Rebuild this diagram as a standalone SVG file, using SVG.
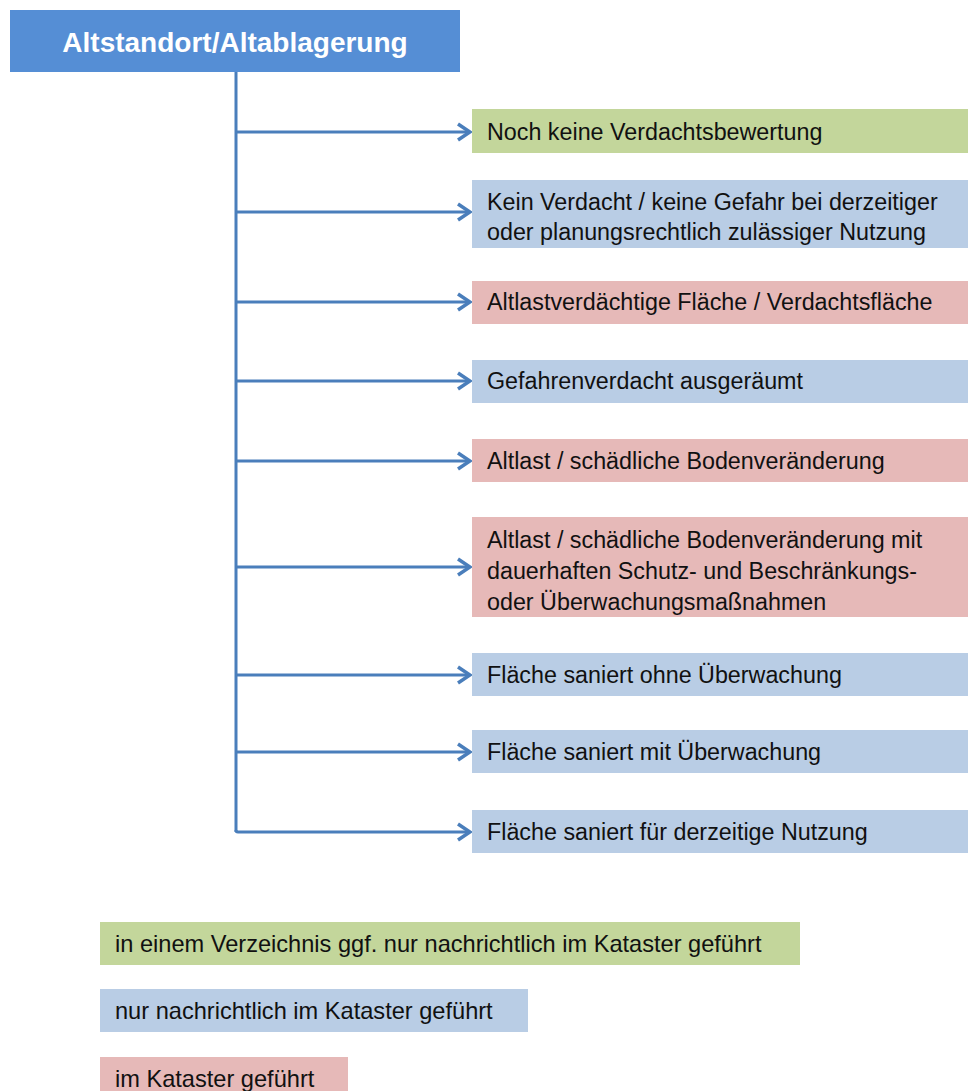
<svg xmlns="http://www.w3.org/2000/svg" width="968" height="1091" viewBox="0 0 968 1091">
<style>
.t{font-family:"Liberation Sans",Arial,sans-serif;font-size:23.3px;fill:#111}
.lg{font-family:"Liberation Sans",Arial,sans-serif;font-size:23.6px;fill:#111}
.g{fill:#C3D69B}.b{fill:#B9CDE5}.r{fill:#E6B9B8}
.c{stroke:#4A7EBB;stroke-width:3;fill:none}
</style>
<defs>
<marker id="ah" markerWidth="18" markerHeight="20" refX="15" refY="10" orient="auto" markerUnits="userSpaceOnUse">
<polyline points="3,2 15,10 3,18" fill="none" stroke="#4A7EBB" stroke-width="3.5"/>
</marker>
</defs>
<rect width="968" height="1091" fill="#fff"/>
<g id="root">
<rect x="10" y="10" width="450" height="62" fill="#558ED5"/>
<text x="235" y="52" text-anchor="middle" font-family="Liberation Sans,Arial,sans-serif" font-size="28" font-weight="bold" fill="#fff">Altstandort/Altablagerung</text>
</g>
<g id="connectors">
<polyline class="c" points="236,72 236,832"/>
<line class="c" x1="236" y1="132" x2="470" y2="132" marker-end="url(#ah)"/>
<line class="c" x1="236" y1="212" x2="470" y2="212" marker-end="url(#ah)"/>
<line class="c" x1="236" y1="302" x2="470" y2="302" marker-end="url(#ah)"/>
<line class="c" x1="236" y1="381" x2="470" y2="381" marker-end="url(#ah)"/>
<line class="c" x1="236" y1="461" x2="470" y2="461" marker-end="url(#ah)"/>
<line class="c" x1="236" y1="567" x2="470" y2="567" marker-end="url(#ah)"/>
<line class="c" x1="236" y1="675" x2="470" y2="675" marker-end="url(#ah)"/>
<line class="c" x1="236" y1="752" x2="470" y2="752" marker-end="url(#ah)"/>
<path class="c" d="M236,830 Q236,832 238,832 L470,832" marker-end="url(#ah)"/>
</g>
<g id="n1"><rect class="g" x="472" y="109" width="496" height="44"/><text class="t" x="487" y="140">Noch keine Verdachtsbewertung</text></g>
<g id="n2"><rect class="b" x="472" y="180" width="496" height="68"/><text class="t" x="487" y="210">Kein Verdacht / keine Gefahr bei derzeitiger</text><text class="t" x="487" y="240">oder planungsrechtlich zulässiger Nutzung</text></g>
<g id="n3"><rect class="r" x="472" y="281" width="496" height="43"/><text class="t" x="487" y="310">Altlastverdächtige Fläche / Verdachtsfläche</text></g>
<g id="n4"><rect class="b" x="472" y="360" width="496" height="43"/><text class="t" x="487" y="389">Gefahrenverdacht ausgeräumt</text></g>
<g id="n5"><rect class="r" x="472" y="439" width="496" height="43"/><text class="t" x="487" y="469">Altlast / schädliche Bodenveränderung</text></g>
<g id="n6"><rect class="r" x="472" y="517" width="496" height="100"/><text class="t" x="487" y="548">Altlast / schädliche Bodenveränderung mit</text><text class="t" x="487" y="579">dauerhaften Schutz- und Beschränkungs-</text><text class="t" x="487" y="610">oder Überwachungsmaßnahmen</text></g>
<g id="n7"><rect class="b" x="472" y="653" width="496" height="43"/><text class="t" x="487" y="683">Fläche saniert ohne Überwachung</text></g>
<g id="n8"><rect class="b" x="472" y="730" width="496" height="43"/><text class="t" x="487" y="760">Fläche saniert mit Überwachung</text></g>
<g id="n9"><rect class="b" x="472" y="810" width="496" height="43"/><text class="t" x="487" y="840">Fläche saniert für derzeitige Nutzung</text></g>
<g id="legend1"><rect class="g" x="100" y="922" width="700" height="43"/><text class="lg" x="115" y="952">in einem Verzeichnis ggf. nur nachrichtlich im Kataster geführt</text></g>
<g id="legend2"><rect class="b" x="100" y="989" width="428" height="43"/><text class="lg" x="115" y="1019">nur nachrichtlich im Kataster geführt</text></g>
<g id="legend3"><rect class="r" x="100" y="1057" width="248" height="34"/><text class="lg" x="115" y="1087">im Kataster geführt</text></g>
</svg>
